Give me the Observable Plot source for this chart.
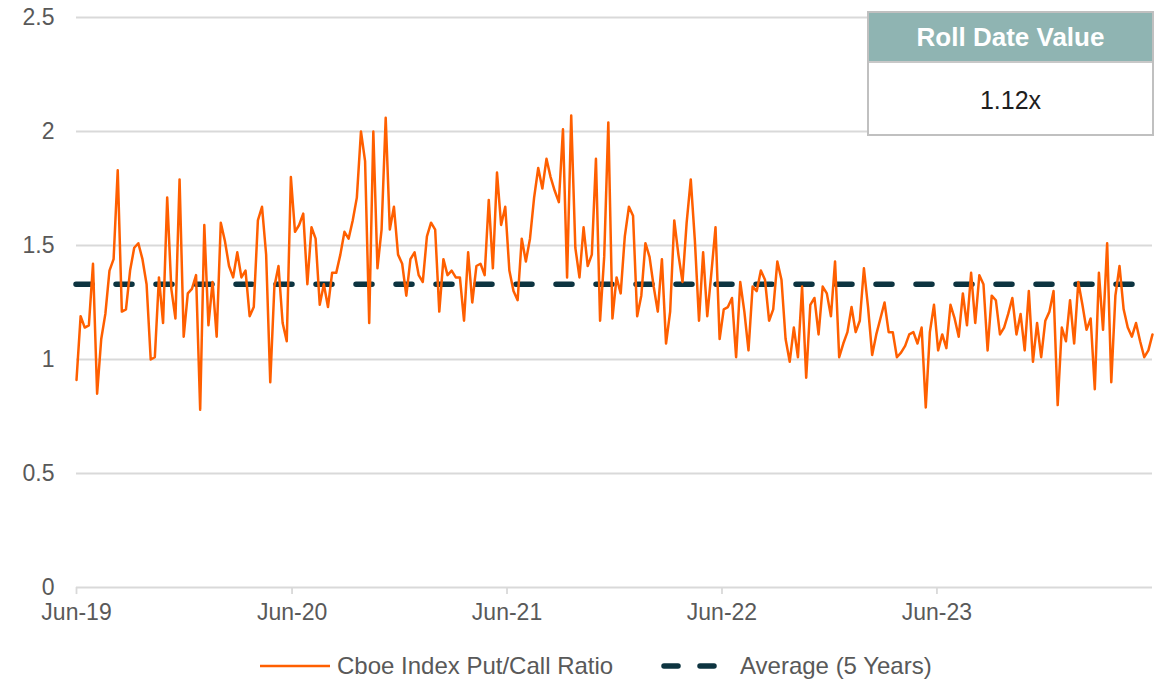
<!DOCTYPE html>
<html>
<head>
<meta charset="utf-8">
<script src="https://cdn.jsdelivr.net/npm/d3@7"></script>
<script src="https://cdn.jsdelivr.net/npm/@observablehq/plot@0.6"></script>
<style>
  html, body { margin: 0; padding: 0; background: #fff; }
  body { width: 1165px; height: 680px; position: relative; overflow: hidden;
         font-family: "Liberation Sans", Arial, sans-serif; color: #595959; }
  #chart svg { display: block; }
  .abs { position: absolute; }
  .leg-text { font-size: 24px; line-height: 28px; top: 652px; white-space: nowrap; color: #595959; }
  #box { left: 867px; top: 11px; width: 287px; height: 125px; box-sizing: border-box;
         border: 2.5px solid #c0c0c0; background: #fff; }
  #box .hd { height: 48px; background: #8fb4b2; color: #fff; font-weight: bold; font-size: 26px;
             line-height: 48px; text-align: center; border-bottom: 2px solid #c8c8c8; }
  #box .bd { height: 70px; line-height: 74px; font-size: 25px; text-align: center; color: #1e1e1e; }
</style>
</head>
<body>
<div id="chart"></div>
<script>
// Weekly Cboe Index Put/Call Ratio, starting June 2019
const startDate = "2019-06-01";
const ratioValues = [
  0.91,1.19,1.14,1.15,1.42,0.85,1.09,1.20,1.39,1.44,
  1.83,1.21,1.22,1.39,1.49,1.51,1.44,1.33,1.00,1.01,
  1.36,1.16,1.71,1.31,1.18,1.79,1.10,1.29,1.31,1.37,
  0.78,1.59,1.15,1.34,1.10,1.60,1.52,1.41,1.36,1.47,
  1.36,1.39,1.19,1.23,1.61,1.67,1.46,0.90,1.32,1.41,
  1.16,1.08,1.80,1.56,1.59,1.64,1.33,1.58,1.53,1.24,
  1.33,1.23,1.38,1.38,1.46,1.56,1.53,1.61,1.71,2.00,
  1.87,1.16,2.00,1.40,1.57,2.06,1.57,1.67,1.46,1.42,
  1.28,1.44,1.47,1.37,1.34,1.54,1.60,1.57,1.21,1.44,
  1.37,1.39,1.36,1.36,1.17,1.47,1.25,1.41,1.42,1.37,
  1.70,1.40,1.82,1.59,1.67,1.39,1.30,1.26,1.53,1.43,
  1.53,1.71,1.84,1.75,1.88,1.80,1.74,1.69,2.01,1.36,
  2.07,1.49,1.36,1.58,1.41,1.46,1.88,1.17,1.45,2.04,
  1.18,1.36,1.29,1.54,1.67,1.63,1.19,1.28,1.51,1.45,
  1.32,1.21,1.44,1.07,1.21,1.61,1.46,1.34,1.60,1.79,
  1.52,1.17,1.47,1.19,1.38,1.58,1.09,1.22,1.23,1.27,
  1.01,1.34,1.21,1.04,1.32,1.30,1.39,1.35,1.17,1.22,
  1.43,1.35,1.09,0.99,1.14,1.01,1.32,0.92,1.24,1.27,
  1.11,1.32,1.29,1.19,1.43,1.01,1.07,1.12,1.23,1.12,
  1.17,1.40,1.23,1.02,1.11,1.18,1.25,1.12,1.12,1.01,
  1.03,1.06,1.11,1.12,1.07,1.14,0.79,1.12,1.24,1.04,
  1.11,1.05,1.24,1.18,1.10,1.29,1.15,1.38,1.16,1.37,
  1.33,1.04,1.28,1.26,1.11,1.14,1.20,1.27,1.11,1.20,
  1.04,1.30,0.99,1.16,1.01,1.17,1.21,1.30,0.80,1.14,
  1.08,1.26,1.07,1.34,1.24,1.13,1.18,0.87,1.38,1.13,
  1.51,0.90,1.28,1.41,1.22,1.14,1.10,1.16,1.08,1.01,
  1.04,1.11
];
const averageValue = [1.33];
const yTicks = [0, 0.5, 1, 1.5, 2, 2.5];
const xTickDates = ["2019-06-01", "2020-06-01", "2021-06-01", "2022-06-01", "2023-06-01"];
const xDomain = ["2019-06-01", "2024-06-01"];
const seriesNames = ["Cboe Index Put/Call Ratio", "Average (5 Years)"];
const boxTitle = "Roll Date Value";
const boxValue = "1.12x";

const t0 = new Date(startDate + "T00:00:00Z").getTime();
const data = ratioValues.map((v, i) => ({ date: new Date(t0 + i * 7 * 864e5), value: v }));
const xt = xTickDates.map(d => new Date(d + "T00:00:00Z"));

const chart = Plot.plot({
  width: 1165,
  height: 635,
  marginLeft: 76,
  marginRight: 13,
  marginTop: 17,
  marginBottom: 48,
  style: { fontFamily: "'Liberation Sans', Arial, sans-serif", fontSize: "23px", color: "#595959", background: "transparent" },
  x: { type: "utc", domain: xDomain.map(d => new Date(d + "T00:00:00Z")), label: null },
  y: { domain: [0, 2.5], label: null },
  marks: [
    Plot.ruleY(yTicks, { stroke: "#d9d9d9", strokeWidth: 1.8 }),
    Plot.ruleX(xt, { y1: 0, y2: -0.031, stroke: "#d9d9d9", strokeWidth: 1.8 }),
    Plot.axisY({ ticks: yTicks, tickFormat: d3.format("~g"), tickSize: 0, tickPadding: 22, fill: "#595959", label: null }),
    Plot.axisX({ ticks: xt, tickFormat: d3.utcFormat("%b-%y"), tickSize: 0, tickPadding: 16, fill: "#595959", label: null }),
    Plot.ruleY(averageValue, { stroke: "#0d3440", strokeWidth: 5.5, strokeDasharray: "16,24", strokeLinecap: "round" }),
    Plot.line(data, { x: "date", y: "value", stroke: "#ff5f00", strokeWidth: 2.5 })
  ]
});
document.getElementById("chart").appendChild(chart);

// Legend
const body = document.body;
function addEl(html) { const d = document.createElement("div"); d.innerHTML = html; body.appendChild(d.firstElementChild); }
addEl(`<svg class="abs" style="left:258px;top:656px" width="74" height="20"><line x1="2" x2="72" y1="10" y2="10" stroke="#ff5f00" stroke-width="2.5"/></svg>`);
addEl(`<div class="abs leg-text" style="left:337px">${seriesNames[0]}</div>`);
addEl(`<svg class="abs" style="left:658px;top:656px" width="64" height="20"><line x1="6" x2="60" y1="10" y2="10" stroke="#0d3440" stroke-width="5.5" stroke-linecap="round" stroke-dasharray="14,22"/></svg>`);
addEl(`<div class="abs leg-text" style="left:740px">${seriesNames[1]}</div>`);

// Roll date value box
addEl(`<div id="box" class="abs"><div class="hd">${boxTitle}</div><div class="bd">${boxValue}</div></div>`);
</script>
</body>
</html>
